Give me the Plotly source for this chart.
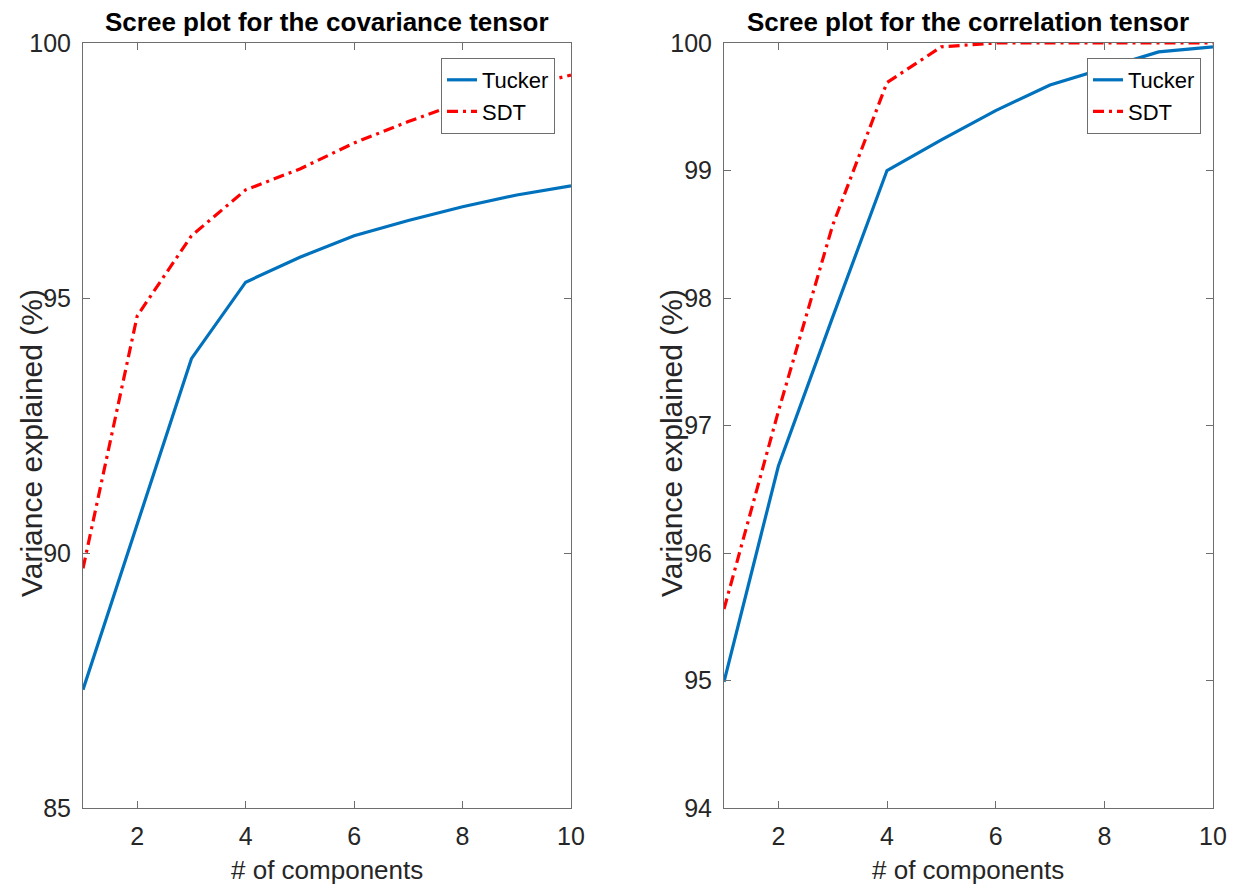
import plotly.graph_objects as go

components = [1, 2, 3, 4, 5, 6, 7, 8, 9, 10]

cov_tucker = [87.32, 90.57, 93.81, 95.31, 95.80, 96.22, 96.52, 96.79, 97.02, 97.20]
cov_sdt = [89.70, 94.65, 96.22, 97.12, 97.53, 98.04, 98.46, 98.84, 99.12, 99.37]

cor_tucker = [94.99, 96.68, 97.85, 99.00, 99.24, 99.47, 99.67, 99.80, 99.93, 99.97]
cor_sdt = [95.56, 97.11, 98.57, 99.69, 99.97, 100.0, 100.0, 100.0, 100.0, 100.0]

x_ticks = [2, 4, 6, 8, 10]
cov_y_ticks = [85, 90, 95, 100]
cor_y_ticks = [94, 95, 96, 97, 98, 99, 100]

titles = ["Scree plot for the covariance tensor", "Scree plot for the correlation tensor"]
x_title = "# of components"
y_title = "Variance explained (%)"

W, H = 1237, 896
OFF = 8  # default body margin of the page
FW, FH = W - 2 * OFF, H - 2 * OFF
FONT = "Liberation Sans, Arial, sans-serif"
TXT = "#262626"
AX = "#6e6e6e"

BLUE = "#0072BD"
RED = "#FF0000"
DASHDOT = "11px,5px,3px,5px"

fig = go.Figure()

fig.add_trace(go.Scatter(x=components, y=cov_tucker, mode="lines", name="Tucker",
                         line=dict(color=BLUE, width=3.2), xaxis="x", yaxis="y", legend="legend"))
fig.add_trace(go.Scatter(x=components, y=cov_sdt, mode="lines", name="SDT",
                         line=dict(color=RED, width=3.2, dash=DASHDOT), xaxis="x", yaxis="y", legend="legend"))
fig.add_trace(go.Scatter(x=components, y=cor_tucker, mode="lines", name="Tucker",
                         line=dict(color=BLUE, width=3.2), xaxis="x2", yaxis="y2", legend="legend2"))
fig.add_trace(go.Scatter(x=components, y=cor_sdt, mode="lines", name="SDT",
                         line=dict(color=RED, width=3.2, dash=DASHDOT), xaxis="x2", yaxis="y2", legend="legend2"))

def px_x(p):
    return (p - OFF) / FW

def px_y(p):
    return 1 - (p - OFF) / FH

dom_y = [px_y(808), px_y(43)]
dom_x1 = [px_x(83), px_x(571)]
dom_x2 = [px_x(724), px_x(1213)]

common_x = dict(range=[1, 10], tickvals=x_ticks, ticktext=[str(v) for v in x_ticks],
                ticks="inside", ticklen=7, tickcolor=AX, tickwidth=1,
                showline=True, linecolor=AX, linewidth=1, mirror="allticks",
                showgrid=False, zeroline=False,
                tickfont=dict(family=FONT, size=25, color=TXT),
                ticklabelstandoff=6,
                automargin=False)
common_y = dict(ticks="inside", ticklen=7, tickcolor=AX, tickwidth=1,
                showline=True, linecolor=AX, linewidth=1, mirror="allticks",
                showgrid=False, zeroline=False,
                tickfont=dict(family=FONT, size=25, color=TXT),
                ticklabelstandoff=6,
                automargin=False)

def text_ann(text, xp, yp, size, angle=0, bold=False, color=TXT):
    return dict(text=("<b>" + text + "</b>") if bold else text, x=px_x(xp), y=px_y(yp),
                xref="paper", yref="paper", showarrow=False, xanchor="center", yanchor="middle",
                textangle=angle, font=dict(family=FONT, size=size, color=color))

fig.update_layout(
    width=FW, height=FH,
    margin=dict(l=0, r=0, t=0, b=0),
    paper_bgcolor="white", plot_bgcolor="white",
    showlegend=True,
    xaxis=dict(domain=dom_x1, anchor="y", **common_x),
    yaxis=dict(domain=dom_y, anchor="x", range=[85, 100], tickvals=cov_y_ticks,
               ticktext=[str(v) for v in cov_y_ticks], **common_y),
    xaxis2=dict(domain=dom_x2, anchor="y2", **common_x),
    yaxis2=dict(domain=dom_y, anchor="x2", range=[94, 100], tickvals=cor_y_ticks,
                ticktext=[str(v) for v in cor_y_ticks], **common_y),
    legend=dict(x=px_x(555), y=px_y(58), xanchor="right", yanchor="top",
                bgcolor="white", bordercolor=AX, borderwidth=1,
                font=dict(family=FONT, size=22, color="black"),
                tracegroupgap=0, itemwidth=30),
    legend2=dict(x=px_x(1201), y=px_y(58), xanchor="right", yanchor="top",
                 bgcolor="white", bordercolor=AX, borderwidth=1,
                 font=dict(family=FONT, size=22, color="black"),
                 tracegroupgap=0, itemwidth=30),
    annotations=[
        text_ann(titles[0], 327, 22, 26, bold=True, color="black"),
        text_ann(titles[1], 968, 22, 26, bold=True, color="black"),
        text_ann(x_title, 327, 870, 26),
        text_ann(x_title, 968, 870, 26),
        text_ann(y_title, 31, 443, 30, angle=-90),
        text_ann(y_title, 671, 443, 30, angle=-90),
    ],
)

fig.write_html("out.html")
